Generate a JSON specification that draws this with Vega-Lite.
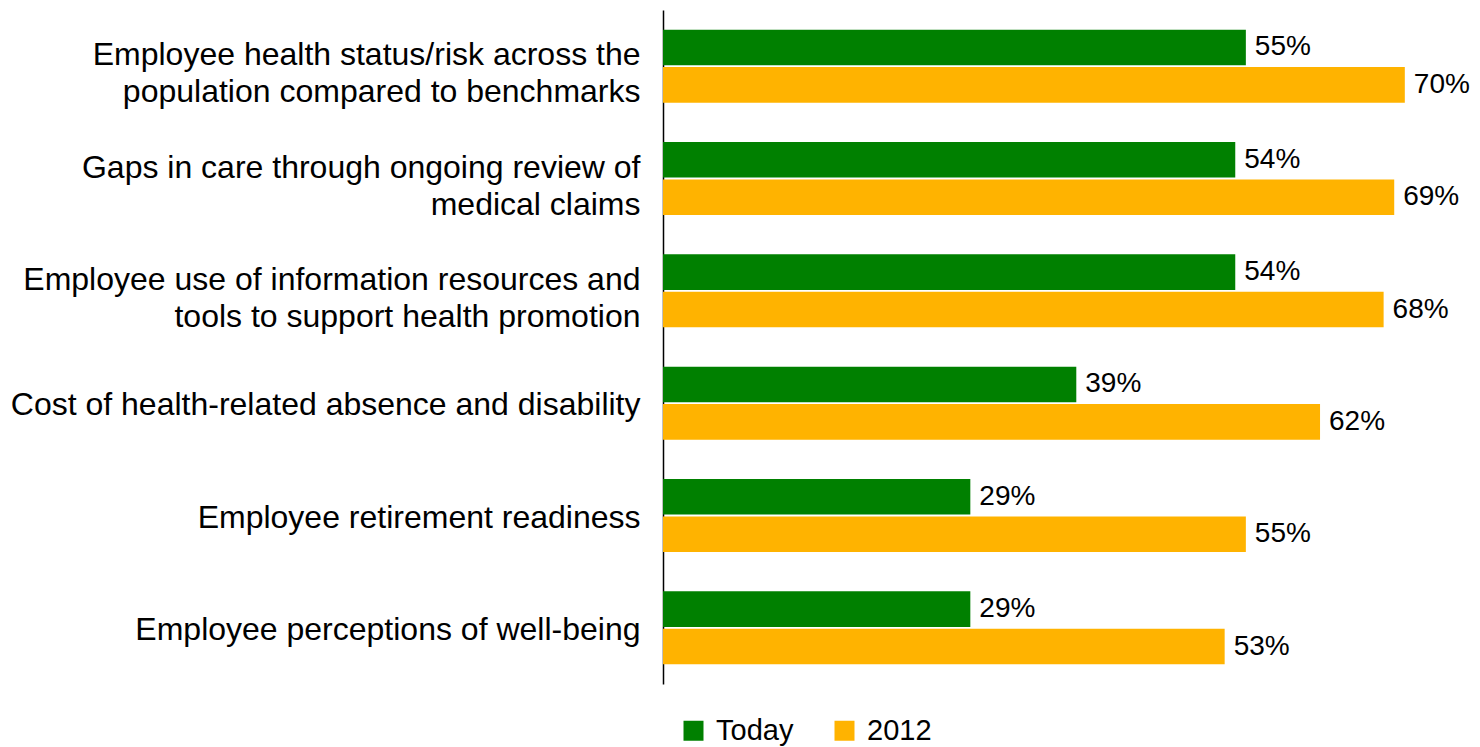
{
  "$schema": "https://vega.github.io/schema/vega-lite/v6.json",
  "autosize": {"type": "none"},
  "width": 816,
  "height": 674,
  "padding": {"left": 663, "top": 10, "right": 1, "bottom": 63},
  "background": "white",
  "config": {"view": {"stroke": null}, "font": "Liberation Sans"},
  "data": {
    "values": [
      {"cat": "Employee health status/risk across the|population compared to benchmarks", "series": "Today", "value": 0.55},
      {"cat": "Employee health status/risk across the|population compared to benchmarks", "series": "2012", "value": 0.70},
      {"cat": "Gaps in care through ongoing review of|medical claims", "series": "Today", "value": 0.54},
      {"cat": "Gaps in care through ongoing review of|medical claims", "series": "2012", "value": 0.69},
      {"cat": "Employee use of information resources and|tools to support health promotion", "series": "Today", "value": 0.54},
      {"cat": "Employee use of information resources and|tools to support health promotion", "series": "2012", "value": 0.68},
      {"cat": "Cost of health-related absence and disability", "series": "Today", "value": 0.39},
      {"cat": "Cost of health-related absence and disability", "series": "2012", "value": 0.62},
      {"cat": "Employee retirement readiness", "series": "Today", "value": 0.29},
      {"cat": "Employee retirement readiness", "series": "2012", "value": 0.55},
      {"cat": "Employee perceptions of well-being", "series": "Today", "value": 0.29},
      {"cat": "Employee perceptions of well-being", "series": "2012", "value": 0.53}
    ]
  },
  "encoding": {
    "y": {
      "field": "cat",
      "type": "nominal",
      "sort": null,
      "scale": {"paddingInner": 0.35, "paddingOuter": 0.175},
      "axis": {
        "title": null,
        "ticks": false,
        "domain": true,
        "domainColor": "#000000",
        "domainWidth": 1.5,
        "labelExpr": "split(datum.value, '|')",
        "labelFont": "Liberation Sans",
        "labelFontSize": 32,
        "labelColor": "#000000",
        "labelLineHeight": 37,
        "labelPadding": 23,
        "labelAlign": "right",
        "labelBaseline": "middle",
        "labelLimit": 0,
        "labelOffset": {"condition": {"test": "indexof(datum.value, '|') >= 0", "value": -11}, "value": 2}
      }
    },
    "yOffset": {
      "field": "series",
      "type": "nominal",
      "sort": ["Today", "2012"],
      "scale": {"paddingInner": 0.05}
    },
    "x": {
      "field": "value",
      "type": "quantitative",
      "scale": {"domain": [0, 0.77], "nice": false},
      "axis": null
    }
  },
  "layer": [
    {
      "mark": {"type": "bar"},
      "encoding": {
        "color": {
          "field": "series",
          "type": "nominal",
          "sort": ["Today", "2012"],
          "scale": {"domain": ["Today", "2012"], "range": ["#008000", "#FFB300"]},
          "legend": {
            "title": null,
            "orient": "none",
            "direction": "horizontal",
            "legendX": 16,
            "legendY": 706,
            "symbolType": "square",
            "symbolSize": 400,
            "symbolStrokeWidth": 0,
            "symbolOpacity": 1,
            "labelFont": "Liberation Sans",
            "labelFontSize": 29,
            "labelColor": "#000000",
            "labelOffset": 8,
            "columnPadding": 36,
            "padding": 0
          }
        }
      }
    },
    {
      "mark": {"type": "text", "align": "left", "baseline": "middle", "dx": 9, "font": "Liberation Sans", "fontSize": 28, "color": "#000000"},
      "encoding": {
        "text": {"field": "value", "type": "quantitative", "format": ".0%"}
      }
    }
  ]
}
